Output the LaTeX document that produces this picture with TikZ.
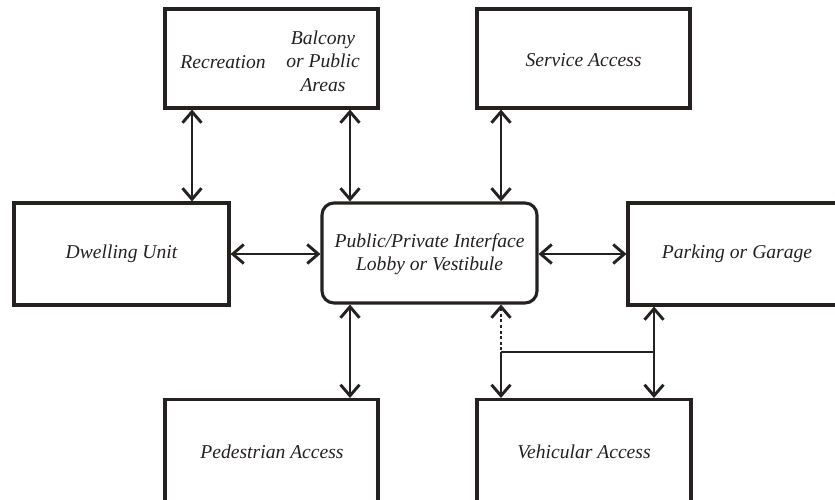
\documentclass[tikz,border=0pt]{standalone}
\usepackage{fontspec}
\setmainfont{Liberation Serif}
\usetikzlibrary{arrows.meta}
\definecolor{ink}{RGB}{38,33,33}
\begin{document}
\begin{tikzpicture}[x=1pt,y=-1pt,
  >={Straight Barb[length=11pt,width=19pt]},
  box/.style={draw=ink,line width=3.1pt,minimum width=213pt,minimum height=99pt,inner sep=0pt},
  lbl/.style={text=ink,font=\fontsize{19.6}{23.5}\selectfont\itshape,align=center,inner sep=0pt},
  link/.style={draw=ink,line width=2.9pt},
  dbl/.style={link,<->},
  dots/.style={link,dash pattern=on 3pt off 2.6pt}
]
\useasboundingbox (0,0) rectangle (835,499);
\fill[white] (0,0) rectangle (835,499);
\clip (0,0) rectangle (835,499);

% boxes
\node[box] (rec) at (271.5,58.5) {};
\node[box] (svc) at (583.5,58.5) {};
\node[box,minimum width=215pt,minimum height=102pt] (dw) at (121.5,254) {};
\node[box,rounded corners=12pt,minimum width=215pt,minimum height=100pt] (lob) at (429.5,253) {};
\node[box,minimum width=230pt,minimum height=102pt] (park) at (743,254) {};
\node[box,minimum height=106pt] (ped) at (271.5,452.5) {};
\node[box,minimum width=214pt,minimum height=106pt] (veh) at (584,452.5) {};

% labels
\node[lbl] (recT) at (223,62) {Recreation};
\node[lbl] (balT) at (323,61) {Balcony\\or Public\\Areas};
\node[lbl] (svcT) at (583.5,60) {Service Access};
\node[lbl] (dwT) at (121.5,254) {Dwelling Unit};
\node[lbl] (lobT) at (429.5,254) {Public/Private Interface\\Lobby or Vestibule};
\node[lbl] (parkT) at (737,254) {Parking or Garage};
\node[lbl] (pedT) at (272,452) {Pedestrian Access};
\node[lbl] (vehT) at (584,452) {Vehicular Access};

% guide coordinates
\coordinate (xa) at (192,0);
\coordinate (xb) at (350,0);
\coordinate (xc) at (501,0);
\coordinate (xd) at (654,0);
\coordinate (ym) at (0,254);
\coordinate (yh) at (0,352);
\coordinate (j1) at (xc |- yh);
\coordinate (j2) at (xd |- yh);

% connectors
\draw[dbl] (rec.south -| xa) -- (dw.north -| xa);
\draw[dbl] (rec.south -| xb) -- (lob.north -| xb);
\draw[dbl] (svc.south -| xc) -- (lob.north -| xc);
\draw[dbl] (dw.east |- ym) -- (lob.west |- ym);
\draw[dbl] (lob.east |- ym) -- (park.west |- ym);
\draw[dbl] (lob.south -| xb) -- (ped.north -| xb);
\draw[dbl] (park.south -| xd) -- (veh.north -| xd);
\draw[dots,<-] (lob.south -| xc) -- (j1);
\draw[link,->] (j1) -- (veh.north -| xc);
\draw[link] (j1) -- (j2);
\end{tikzpicture}
\end{document}
